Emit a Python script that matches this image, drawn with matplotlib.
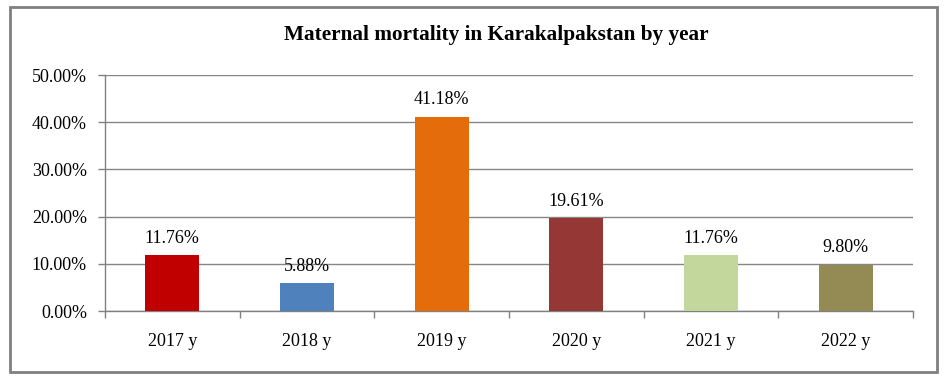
import matplotlib
matplotlib.use("Agg")
import matplotlib.pyplot as plt
from matplotlib.patches import Rectangle
from matplotlib.ticker import FuncFormatter, MultipleLocator

years = ["2017 y", "2018 y", "2019 y", "2020 y", "2021 y", "2022 y"]
values = [11.76, 5.88, 41.18, 19.61, 11.76, 9.80]
colors = ["#C00000", "#4F81BD", "#E46C0A", "#953735", "#C3D69B", "#948A54"]
title = "Maternal mortality in Karakalpakstan by year"

plt.rcParams['font.family'] = ['Liberation Serif', 'DejaVu Serif']

W, H = 952, 382
fig = plt.figure(figsize=(W/100, H/100), dpi=100)
fig.patch.set_facecolor("white")
fig.add_artist(Rectangle((10/W, 1 - 372/H), 927/W, 365/H, transform=fig.transFigure,
                         fill=False, edgecolor="#808080", linewidth=2))

ax = fig.add_axes([105/W, 1 - 311/H, (913-105)/W, (311-75)/H])
x = list(range(len(years)))
ax.bar(x, values, width=0.4, color=colors, zorder=3)
ax.set_xlim(-0.5, len(years) - 0.5)
ax.set_ylim(0, 50)
ax.yaxis.set_major_locator(MultipleLocator(10))
ax.yaxis.set_major_formatter(FuncFormatter(lambda v, p: f"{v:.2f}%"))
ax.set_xticks(x)
ax.set_xticklabels(years)
ax.set_xticks([i - 0.5 for i in range(len(years) + 1)], minor=True)
ax.tick_params(axis='x', which='major', length=0, pad=16, labelsize=13)
ax.tick_params(axis='x', which='minor', length=5, color="#808080", width=1)
ax.tick_params(axis='y', length=5, color="#808080", width=1, labelsize=13, pad=8)
ax.grid(axis='y', color="#868686", linewidth=1, zorder=0)
for s in ["top", "right"]:
    ax.spines[s].set_visible(False)
for s in ["left", "bottom"]:
    ax.spines[s].set_color("#808080")
    ax.spines[s].set_linewidth(1)

for xi, v in zip(x, values):
    ax.annotate(f"{v:.2f}%", (xi, v), xytext=(0, 6), textcoords="offset points",
                ha="center", va="bottom", fontsize=13)

fig.text(496/W, 1 - 35/H, title, ha="center", va="center", fontsize=15.3, fontweight="bold")

fig.savefig("out.png", dpi=100, facecolor="white")
